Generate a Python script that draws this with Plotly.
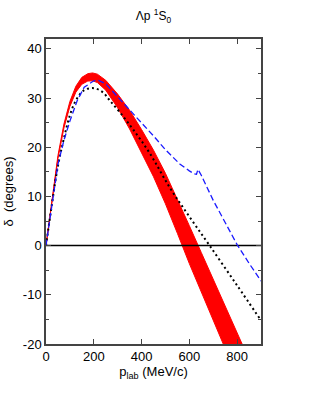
import plotly.graph_objects as go

# Red band (upper / lower edges)
red_p = [0, 25, 50, 75, 100, 125, 150, 175, 195, 215, 250, 300, 350, 400, 450, 500, 550, 600, 650, 700, 750, 800, 850, 900]
red_upper = [0, 9.15, 18.3, 24.7, 29.3, 32.4, 34.2, 34.95, 35.1, 34.85, 33.6, 30.8, 27.5, 23.6, 19.4, 14.7, 9.5, 4.05, -1.4, -6.8, -12.2, -17.7, -23.1, -28.6]
red_lower = [0, 8.85, 17.7, 23.9, 28.3, 31.2, 32.8, 33.45, 33.5, 33.15, 31.6, 28.0, 23.7, 19.0, 14.0, 8.5, 2.5, -3.65, -9.4, -15.2, -21.0, -26.7, -32.5, -38.2]

# Blue dashed curve
blue_p = [0, 25, 50, 75, 100, 130, 160, 200, 220, 250, 300, 350, 400, 450, 500, 560, 600, 620, 630, 636, 642, 650, 700, 750, 800, 850, 900]
blue_d = [0, 8.5, 16.5, 21.4, 25.3, 29.4, 32.2, 33.5, 33.6, 32.9, 30.3, 27.6, 25.0, 22.3, 19.5, 16.6, 15.2, 14.6, 14.5, 15.5, 15.0, 14.3, 9.2, 4.6, 0.2, -3.6, -7.2]

# Black dotted curve
black_p = [0, 25, 50, 75, 100, 125, 160, 200, 237, 267, 309, 365, 434, 518, 600, 685, 800, 900]
black_d = [0, 8.5, 16.2, 21.8, 26.5, 29.5, 31.6, 32.0, 31.2, 29.5, 27.1, 23.6, 18.8, 11.8, 5.9, 0, -8.1, -15.2]

x_ticks = [0, 200, 400, 600, 800]
y_ticks = [-20, -10, 0, 10, 20, 30, 40]

FONT = "Liberation Sans, Arial, sans-serif"

fig = go.Figure()

fig.add_trace(go.Scatter(
    x=red_p + red_p[::-1],
    y=red_upper + red_lower[::-1],
    fill="toself", fillcolor="#ff0000",
    line=dict(color="#ff0000", width=1),
    mode="lines", hoverinfo="skip", showlegend=False,
))

fig.add_trace(go.Scatter(
    x=[0, 900], y=[0, 0], mode="lines",
    line=dict(color="black", width=1.5), showlegend=False,
))

fig.add_trace(go.Scatter(
    x=black_p, y=black_d, mode="lines", line_shape="spline",
    line=dict(color="black", width=2, dash="2px,3px"), showlegend=False,
))

fig.add_trace(go.Scatter(
    x=blue_p, y=blue_d, mode="lines",
    line=dict(color="#1a1aff", width=1.3, dash="6px,3px"), showlegend=False,
))

axis_common = dict(
    showline=True, linecolor="#444", linewidth=1.5, mirror="allticks",
    ticks="inside", tickcolor="#444", tickwidth=1, ticklen=5,
    showgrid=False, zeroline=False, automargin=False,
    tickfont=dict(family=FONT, size=13, color="black"),
)

fig.update_layout(
    width=316, height=409,
    margin=dict(l=46, r=55, t=39, b=65, autoexpand=False),
    paper_bgcolor="white", plot_bgcolor="white",
    title=dict(
        text="Λp <sup>1</sup>S<sub>0</sub>",
        x=(46 + 261) / 2 / 316, xanchor="center",
        y=1 - 16 / 409, yanchor="middle", yref="container",
        automargin=False,
        font=dict(family=FONT, size=12, color="black"),
    ),
    xaxis=dict(
        range=[0, 900], tickvals=x_ticks, ticktext=[str(v) for v in x_ticks],
        title=dict(text="p<sub>lab</sub> (MeV/c)", standoff=4,
                   font=dict(family=FONT, size=13, color="black")),
        **axis_common,
    ),
    yaxis=dict(
        range=[-20, 42], tickvals=y_ticks, ticktext=[str(v) for v in y_ticks],
        minor=dict(dtick=5, ticks="inside", ticklen=3, tickcolor="#444", tickwidth=1),
        title=dict(text="δ  (degrees)", standoff=6,
                   font=dict(family=FONT, size=13, color="black")),
        **axis_common,
    ),
)

fig.write_html("out.html", config={"displayModeBar": False},
               post_script="document.body.style.margin='0';")
